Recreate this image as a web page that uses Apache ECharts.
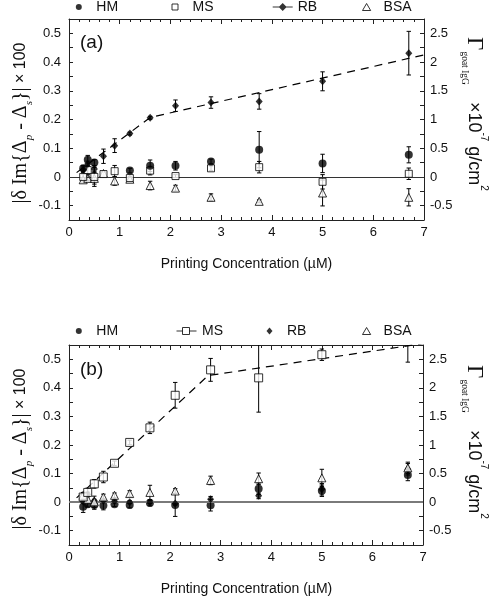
<!DOCTYPE html>
<html><head><meta charset="utf-8">
<script src="https://cdn.jsdelivr.net/npm/echarts@6/dist/echarts.min.js"></script>
<style>html,body{margin:0;padding:0;background:#fff}#c{width:497px;height:600px}</style>
</head><body><div id="c"></div>
<script>
// Printing concentration (µM)
const conc = [0.28, 0.37, 0.5, 0.68, 0.9, 1.2, 1.6, 2.1, 2.8, 3.75, 5.0, 6.7];
const xTicks = [0, 1, 2, 3, 4, 5, 6, 7];

// Panel (a) — RB printed
const HM_a      = [0.030, 0.060, 0.050, null, null, 0.022, 0.039, 0.039, 0.054, 0.095, 0.047, 0.077];
const HM_a_err  = [0.010, 0.015, 0.010, null, null, 0.008, 0.020, 0.015, 0.008, 0.063, 0.032, 0.028];
const MS_a      = [0.000, 0.024, 0.000, 0.010, 0.020, -0.004, 0.022, 0.003, 0.030, 0.034, -0.017, 0.011];
const MS_a_err  = [0.010, 0.015, 0.033, 0.008, 0.020, 0.005, 0.015, 0.005, 0.008, 0.020, 0.025, 0.020];
const RB_a      = [0.025, 0.045, 0.028, 0.072, 0.109, 0.151, 0.206, 0.248, 0.259, 0.263, 0.333, 0.431];
const RB_a_err  = [0.010, 0.010, 0.010, 0.025, 0.024, 0.005, 0.005, 0.020, 0.020, 0.027, 0.033, 0.076];
const BSA_a     = [-0.010, -0.005, -0.005, 0.012, -0.014, -0.008, -0.030, -0.039, -0.071, -0.085, -0.056, -0.071];
const BSA_a_err = [0.008, 0.008, 0.020, 0.005, 0.015, 0.005, 0.015, 0.010, 0.012, 0.005, 0.045, 0.030];
const fitA_x = [0.15, 1.6, 7.0];
const fitA_y = [0.015, 0.207, 0.425];

// Panel (b) — MS printed
const HM_b      = [-0.016, -0.007, -0.010, -0.012, -0.007, -0.010, -0.003, -0.010, -0.011, 0.047, 0.040, 0.095];
const HM_b_err  = [0.020, 0.010, 0.015, 0.015, 0.008, 0.010, 0.010, 0.040, 0.020, 0.020, 0.020, 0.020];
const MS_b      = [0.018, 0.034, 0.064, 0.088, 0.136, 0.209, 0.260, 0.374, 0.463, 0.435, 0.516, 0.560];
const MS_b_err  = [0.010, 0.015, 0.015, 0.020, 0.008, 0.008, 0.020, 0.045, 0.040, 0.120, 0.020, 0.070];
const RB_b      = [0.002, 0.027, 0.005, 0.005, 0.003, 0.000, 0.000, -0.005, 0.010, 0.022, 0.045, 0.115];
const RB_b_err  = [0.005, 0.008, 0.005, 0.005, 0.005, 0.005, 0.005, 0.005, 0.010, 0.010, 0.020, 0.020];
const BSA_b     = [0.024, 0.010, 0.001, 0.018, 0.024, 0.030, 0.034, 0.039, 0.076, 0.082, 0.085, 0.120];
const BSA_b_err = [0.010, 0.010, 0.020, 0.010, 0.008, 0.010, 0.025, 0.008, 0.015, 0.020, 0.030, 0.020];
const fitB_x = [0.15, 2.75, 7.0];
const fitB_y = [0.015, 0.443, 0.555];

const SANS = 'Liberation Sans, Arial, sans-serif';
const SERIF = 'Liberation Serif, Times New Roman, serif';
const AX = '#222';

function pts(v) { return conc.map((x, i) => v[i] == null ? null : [x, v[i]]).filter(Boolean); }
function errPts(v, e) { return conc.map((x, i) => v[i] == null ? null : [x, v[i], e[i]]).filter(Boolean); }

function scatter(name, g, v, symbol, size, filled, z) {
  return {
    type: 'scatter', name, xAxisIndex: g * 2, yAxisIndex: g * 2, data: pts(v),
    symbol, symbolSize: size, clip: true, z: z || 4, silent: true,
    itemStyle: filled ? { color: '#000', borderColor: '#000', borderWidth: 0 }
                      : { color: '#fff', borderColor: '#000', borderWidth: 1 }
  };
}
function errBars(name, g, v, e) {
  return {
    type: 'custom', name, xAxisIndex: g * 2, yAxisIndex: g * 2, data: errPts(v, e),
    clip: true, z: 2, silent: true,
    encode: { x: 0, y: 1 },
    renderItem: function (params, api) {
      const x = api.value(0), y = api.value(1), er = api.value(2);
      const t = api.coord([x, y + er]);
      const b = api.coord([x, y - er]);
      const w = 2.2;
      const st = { stroke: '#000', lineWidth: 1 };
      return { type: 'group', children: [
        { type: 'line', shape: { x1: t[0], y1: t[1], x2: b[0], y2: b[1] }, style: st },
        { type: 'line', shape: { x1: t[0] - w, y1: t[1], x2: t[0] + w, y2: t[1] }, style: st },
        { type: 'line', shape: { x1: b[0] - w, y1: b[1], x2: b[0] + w, y2: b[1] }, style: st }
      ] };
    }
  };
}
function fit(name, g, xs, ys) {
  return {
    type: 'line', name, xAxisIndex: g * 2, yAxisIndex: g * 2,
    data: xs.map((x, i) => [x, ys[i]]), symbol: 'none', z: 3, silent: true,
    lineStyle: { color: '#000', width: 1.2, type: [8, 6] }
  };
}
function zeroLine(g, color, width) {
  return {
    type: 'line', name: 'zero' + g, xAxisIndex: g * 2, yAxisIndex: g * 2, data: [], silent: true, z: 1,
    markLine: { silent: true, symbol: 'none', label: { show: false },
      lineStyle: { color, width, type: 'solid' }, data: [{ yAxis: 0 }] }
  };
}

function xAx(g, pos) {
  return {
    gridIndex: g, type: 'value', position: pos, min: xTicks[0], max: xTicks[xTicks.length - 1], interval: 1,
    axisLine: { onZero: false, lineStyle: { color: AX, width: 1 } },
    axisTick: { inside: true, length: 5, lineStyle: { color: AX } },
    minorTick: { show: true, splitNumber: 5, length: 3, lineStyle: { color: AX } },
    splitLine: { show: false }, minorSplitLine: { show: false },
    axisLabel: { show: pos === 'bottom', fontSize: 13, fontFamily: SANS, color: '#111', margin: 6 }
  };
}
function yLeft(g) {
  return {
    gridIndex: g, type: 'value', position: 'left', min: -0.15, max: 0.55, interval: 0.05,
    axisLine: { onZero: false, lineStyle: { color: AX, width: 1 } },
    axisTick: { inside: true, length: 4, lineStyle: { color: AX } },
    splitLine: { show: false },
    axisLabel: { fontSize: 13, fontFamily: SANS, color: '#111', margin: 8,
      formatter: v => { const k = Math.round(v * 100); return k % 10 ? '' : String(k / 100); } }
  };
}
function yRight(g) {
  return {
    gridIndex: g, type: 'value', position: 'right', min: -0.75, max: 2.75, interval: 0.25,
    axisLine: { onZero: false, lineStyle: { color: AX, width: 1 } },
    axisTick: { inside: true, length: 4, lineStyle: { color: AX } },
    splitLine: { show: false },
    axisLabel: { fontSize: 13, fontFamily: SANS, color: '#111', margin: 6,
      formatter: v => { const k = Math.round(v * 100); return k % 50 ? '' : String(k / 100); } }
  };
}

function leg(name, label, left, top, icon, w, h, filled) {
  return {
    show: true, left, top, padding: 0, itemWidth: w, itemHeight: h, symbolKeepAspect: true,
    selectedMode: false, data: [{ name, icon }], formatter: () => label,
    textStyle: { fontSize: 14, fontFamily: SANS, color: '#111' },
    itemStyle: filled ? { color: '#000', borderColor: '#000', borderWidth: 0 }
                      : { color: '#fff', borderColor: '#000', borderWidth: 1 }
  };
}

const ICON_SQ = 'path://M0,0H6V6H0Z';
const ICON_TRI = 'path://M3.5,0L7,6H0Z';
const ICON_DIA = 'path://M3,0L6,3.5L3,7L0,3.5Z';
const ICON_RB_LINE = 'path://M0,3.5H6.5L10,0L13.5,3.5H20V4.5H13.5L10,8L6.5,4.5H0Z';
const ICON_MS_LINE = 'path://M0,3.5H6M6,0H13V7H6ZM13,3.5H20';

function leftLabel(y) {
  return {
    type: 'text', x: 21, y, rotation: Math.PI / 2, silent: true,
    style: {
      text: '|\u03B4 Im{\u0394{sub|p}{m| - \u0394}{sub|s}}|{n| \u00D7 100}',
      fontSize: 20, fontFamily: SERIF, fill: '#111', lineHeight: 28,
      align: 'center', verticalAlign: 'middle', textAlign: 'center', textVerticalAlign: 'middle',
      rich: {
        m: { fontSize: 20, fontFamily: SERIF, fill: '#111', lineHeight: 28 },
        sub: { fontSize: 11, fontFamily: SERIF, fontStyle: 'italic', fill: '#111', lineHeight: 14, verticalAlign: 'bottom' },
        n: { fontSize: 16, fontFamily: SANS, fill: '#111', lineHeight: 28 }
      }
    }
  };
}
function rightLabel(y) {
  return {
    type: 'text', x: 474, y, rotation: -Math.PI / 2, silent: true,
    style: {
      text: '{G|\u0393}{sub|goat IgG}{n| \u00D710}{sup|-7}{n| g/cm}{sup|2}',
      fill: '#111', align: 'center', verticalAlign: 'middle', textAlign: 'center', textVerticalAlign: 'middle',
      rich: {
        G: { fontSize: 23, fontFamily: SERIF, fill: '#111', lineHeight: 30 },
        sub: { fontSize: 9.5, fontFamily: SERIF, fill: '#111', lineHeight: 12, verticalAlign: 'bottom', padding: [0, 12, 0, 1] },
        n: { fontSize: 18, fontFamily: SANS, fill: '#111', lineHeight: 30 },
        sup: { fontSize: 10, fontFamily: SANS, fill: '#111', lineHeight: 14, verticalAlign: 'top' }
      }
    }
  };
}

const option = {
  backgroundColor: '#fff',
  animation: false,
  grid: [
    { left: 69, top: 19, width: 355, height: 201 },
    { left: 69, top: 345, width: 354, height: 200 }
  ],
  xAxis: [xAx(0, 'bottom'), xAx(0, 'top'), xAx(1, 'bottom'), xAx(1, 'top')],
  yAxis: [yLeft(0), yRight(0), yLeft(1), yRight(1)],
  legend: [
    leg('HM', 'HM', 75.8, 0, 'circle', 25, 6, true),
    leg('MS', 'MS', 171.5, 0, ICON_SQ, 25, 6, false),
    leg('RB', 'RB', 272.7, 0, ICON_RB_LINE, 20, 8, true),
    leg('BSA', 'BSA', 362, 0, ICON_TRI, 24, 7, false),
    leg('HM_b', 'HM', 75.8, 324, 'circle', 25, 6, true),
    leg('MS_b', 'MS', 176, 324, ICON_MS_LINE, 21, 7, false),
    leg('RB_b', 'RB', 266.5, 324, ICON_DIA, 25, 7, true),
    leg('BSA_b', 'BSA', 362, 324, ICON_TRI, 24, 7, false)
  ],
  series: [
    zeroLine(0, '#333', 1),
    fit('fitA', 0, fitA_x, fitA_y),
    errBars('eHM', 0, HM_a, HM_a_err),
    errBars('eMS', 0, MS_a, MS_a_err),
    errBars('eRB', 0, RB_a, RB_a_err),
    errBars('eBSA', 0, BSA_a, BSA_a_err),
    scatter('BSA', 0, BSA_a, 'triangle', 8, false, 4),
    scatter('MS', 0, MS_a, 'rect', 7, false, 5),
    scatter('HM', 0, HM_a, 'circle', 8, true, 6),
    scatter('RB', 0, RB_a, 'diamond', [7, 8], true, 7),

    zeroLine(1, '#7a7a7a', 2),
    fit('fitB', 1, fitB_x, fitB_y),
    errBars('eHMb', 1, HM_b, HM_b_err),
    errBars('eMSb', 1, MS_b, MS_b_err),
    errBars('eRBb', 1, RB_b, RB_b_err),
    errBars('eBSAb', 1, BSA_b, BSA_b_err),
    scatter('HM_b', 1, HM_b, 'circle', 8, true, 4),
    scatter('RB_b', 1, RB_b, 'diamond', [7, 8], true, 5),
    scatter('BSA_b', 1, BSA_b, 'triangle', 8, false, 6),
    scatter('MS_b', 1, MS_b, 'rect', 8, false, 7)
  ],
  graphic: [
    leftLabel(123), leftLabel(449),
    rightLabel(114), rightLabel(442),
    { type: 'text', x: 246.5, y: 264, silent: true, style: { text: 'Printing Concentration (\u00B5M)', fontSize: 14, fontFamily: SANS, fill: '#111', align: 'center', verticalAlign: 'middle', textAlign: 'center', textVerticalAlign: 'middle' } },
    { type: 'text', x: 246.5, y: 589, silent: true, style: { text: 'Printing Concentration (\u00B5M)', fontSize: 14, fontFamily: SANS, fill: '#111', align: 'center', verticalAlign: 'middle', textAlign: 'center', textVerticalAlign: 'middle' } },
    { type: 'text', x: 80, y: 43, silent: true, style: { text: '(a)', fontSize: 19, fontFamily: SANS, fill: '#111', align: 'left', verticalAlign: 'middle', textAlign: 'left', textVerticalAlign: 'middle' } },
    { type: 'text', x: 80, y: 370, silent: true, style: { text: '(b)', fontSize: 19, fontFamily: SANS, fill: '#111', align: 'left', verticalAlign: 'middle', textAlign: 'left', textVerticalAlign: 'middle' } }
  ]
};

const chart = echarts.init(document.getElementById('c'), null, { renderer: 'canvas' });
chart.setOption(option);
</script>
</body></html>
